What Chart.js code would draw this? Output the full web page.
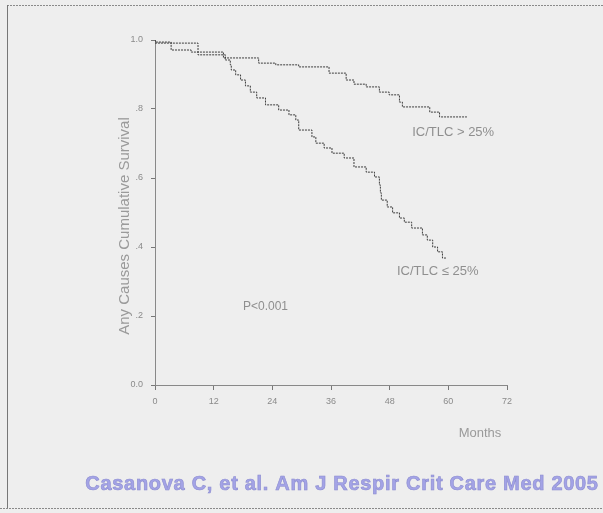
<!DOCTYPE html>
<html>
<head>
<meta charset="utf-8">
<script src="https://cdn.jsdelivr.net/npm/chart.js@4/dist/chart.umd.min.js"></script>
<style>
  html, body { margin: 0; padding: 0; background: #eeeeee; }
  #wrap { width: 603px; height: 513px; position: relative; }
</style>
</head>
<body>
<div id="wrap"><canvas id="km" width="603" height="513"></canvas></div>
<script>
// Kaplan-Meier survival by inspiratory capacity / total lung capacity ratio
const monthsHigh   = [0, 3.3, 7.4, 14.0, 21.2, 24.7, 29.4, 35.6, 39.1, 40.7, 43.2, 45.9, 47.9, 50.0, 50.6, 56.2, 58.2, 60.3, 63.8];
const survivalHigh = [1.0, 0.994, 0.971, 0.965, 0.948, 0.933, 0.928, 0.922, 0.904, 0.884, 0.872, 0.864, 0.849, 0.841, 0.820, 0.806, 0.791, 0.777, 0.777];

const monthsLow   = [0, 8.8, 14.4, 15.4, 15.6, 16.5, 17.5, 18.5, 19.5, 20.8, 22.6, 25.3, 27.4, 28.8, 29.4, 32.1, 32.9, 34.6, 36.2, 38.7, 40.7, 43.2, 44.9, 45.9, 46.1, 46.3, 47.5, 48.6, 50.0, 51.0, 52.5, 54.7, 55.7, 56.8, 57.8, 58.8, 59.7];
const survivalLow = [1.0, 0.991, 0.957, 0.942, 0.928, 0.913, 0.899, 0.884, 0.867, 0.849, 0.832, 0.812, 0.797, 0.783, 0.768, 0.739, 0.719, 0.701, 0.687, 0.672, 0.658, 0.632, 0.617, 0.603, 0.580, 0.557, 0.536, 0.516, 0.499, 0.484, 0.472, 0.455, 0.435, 0.420, 0.400, 0.386, 0.368];

const xTicks = [0, 12, 24, 36, 48, 60, 72];
const yTicks = [0, 0.2, 0.4, 0.6, 0.8, 1.0];
const yTickLabels = ['0.0', '.2', '.4', '.6', '.8', '1.0'];

const groupLabels = ['IC/TLC > 25%', 'IC/TLC \u2264 25%'];
const pValueText = 'P<0.001';
const yTitle = 'Any Causes Cumulative Survival';
const xTitle = 'Months';
const sourceText = 'Casanova C, et al. Am J Respir Crit Care Med 2005';

function toPoints(xs, ys) { return xs.map((x, i) => ({ x: x, y: ys[i] })); }

const frameAndText = {
  id: 'frameAndText',
  beforeDraw(chart) {
    const c = chart.ctx;
    c.save();
    c.fillStyle = '#eeeeee';
    c.fillRect(0, 0, chart.width, chart.height);
    // page frame
    c.strokeStyle = '#8a8a8a';
    c.lineWidth = 1;
    c.setLineDash([2, 1]);
    c.beginPath();
    c.moveTo(7, 5.5); c.lineTo(603, 5.5);
    c.moveTo(0, 508.5); c.lineTo(603, 508.5);
    c.stroke();
    c.setLineDash([]);
    c.strokeStyle = '#777';
    c.beginPath();
    c.moveTo(7.5, 5); c.lineTo(7.5, 508);
    c.stroke();
    c.restore();
  },
  afterDraw(chart) {
    const c = chart.ctx;
    const xs = chart.scales.x, ys = chart.scales.y;
    c.save();
    // y axis title
    c.fillStyle = '#9a9a9a';
    c.font = '15px "Liberation Sans", Arial, sans-serif';
    c.textAlign = 'center';
    c.textBaseline = 'middle';
    c.translate(125, 226);
    c.rotate(-Math.PI / 2);
    c.fillText(yTitle, 0, 0);
    c.setTransform(1, 0, 0, 1, 0, 0);
    // x axis title
    c.font = '13px "Liberation Sans", Arial, sans-serif';
    c.fillText(xTitle, 480, 433);
    // group labels and p value
    c.font = '13px "Liberation Sans", Arial, sans-serif';
    c.textAlign = 'left';
    c.fillStyle = '#8f8f8f';
    c.fillText(groupLabels[0], xs.getPixelForValue(52.6), ys.getPixelForValue(0.733));
    c.fillText(groupLabels[1], xs.getPixelForValue(49.5), ys.getPixelForValue(0.330));
    c.font = '12px "Liberation Sans", Arial, sans-serif';
    c.fillText(pValueText, xs.getPixelForValue(18.0), ys.getPixelForValue(0.226));
    // source line
    c.font = 'bold 20px "Liberation Sans", Arial, sans-serif';
    c.letterSpacing = '0.7px';
    c.textAlign = 'center';
    c.fillStyle = '#a3a3e6';
    c.strokeStyle = '#8c8cd0';
    c.lineWidth = 0.6;
    c.fillText(sourceText, 342, 484);
    c.strokeText(sourceText, 342, 484);
    c.restore();
  }
};

new Chart(document.getElementById('km'), {
  type: 'scatter',
  data: {
    datasets: [
      {
        label: groupLabels[0],
        data: toPoints(monthsHigh, survivalHigh),
        showLine: true,
        stepped: 'after',
        borderColor: '#3c3c3c',
        borderWidth: 1,
        borderDash: [2, 1],
        pointRadius: 0,
        fill: false
      },
      {
        label: groupLabels[1],
        data: toPoints(monthsLow, survivalLow),
        showLine: true,
        stepped: 'after',
        borderColor: '#3c3c3c',
        borderWidth: 1,
        borderDash: [2, 1],
        pointRadius: 0,
        fill: false
      }
    ]
  },
  options: {
    responsive: false,
    animation: false,
    devicePixelRatio: 1,
    layout: { padding: { left: 100, right: 96, top: 40, bottom: 0 } },
    plugins: { legend: { display: false }, tooltip: { enabled: false } },
    scales: {
      x: {
        type: 'linear',
        min: 0, max: 72,
        afterBuildTicks(scale) { scale.ticks = xTicks.map(v => ({ value: v })); },
        afterFit(scale) { scale.height = 128; },
        ticks: {
          color: '#8a8a8a',
          font: { size: 9, family: '"Liberation Sans", Arial, sans-serif' },
          padding: 6,
          maxRotation: 0,
          callback: v => String(v)
        },
        grid: { display: true, drawOnChartArea: false, drawTicks: true, tickLength: 5, color: '#777' },
        border: { display: true, color: '#888', dash: [2, 1] }
      },
      y: {
        type: 'linear',
        min: 0, max: 1,
        afterBuildTicks(scale) { scale.ticks = yTicks.map(v => ({ value: v })); },
        afterFit(scale) { scale.width = 55; },
        ticks: {
          color: '#8a8a8a',
          font: { size: 9, family: '"Liberation Sans", Arial, sans-serif' },
          padding: 8,
          callback: (v) => { const i = yTicks.indexOf(v); return i >= 0 ? yTickLabels[i] : ''; }
        },
        grid: { display: true, drawOnChartArea: false, drawTicks: true, tickLength: 4, color: '#777' },
        border: { display: true, color: '#888', dash: [1, 1] }
      }
    }
  },
  plugins: [frameAndText]
});
</script>
</body>
</html>
